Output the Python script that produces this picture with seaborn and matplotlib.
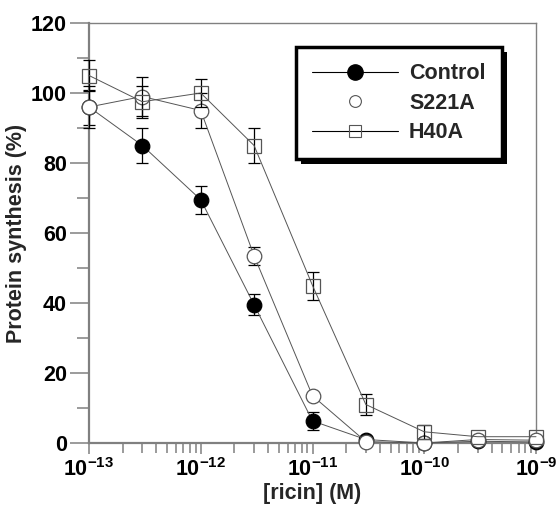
import numpy as np
import pandas as pd
import seaborn as sns
import matplotlib
matplotlib.use("Agg")
import matplotlib.pyplot as plt
from matplotlib.lines import Line2D
from matplotlib.patches import Rectangle
from matplotlib.transforms import IdentityTransform
from matplotlib.ticker import LogLocator, MultipleLocator, FixedLocator, LogFormatterSciNotation, NullFormatter

# ---- data ----
ricin = [1e-13, 3e-13, 1e-12, 3e-12, 1e-11, 3e-11, 1e-10, 3e-10, 1e-9]
control = [96, 85, 69.5, 39.5, 6.3, 1.0, 0.0, 0.5, 0.3]
control_err = [5, 5, 4, 3, 2.5, 0, 0, 0, 0]
s221a = [96, 99, 95, 53.5, 13.5, 0.4, 0.0, 1.0, 0.8]
s221a_err = [6, 5.5, 5, 2.6, 0, 0, 0, 0, 0]
h40a = [105, 97.5, 100, 85, 45, 11, 3.2, 1.8, 1.8]
h40a_err = [4.5, 4.5, 4, 5, 4, 3, 2, 0, 0]
series_names = ["Control", "S221A", "H40A"]
y_ticks = [0, 20, 40, 60, 80, 100, 120]
x_ticks = [1e-13, 1e-12, 1e-11, 1e-10, 1e-9]

sns.set_theme(style="white")
plt.rcParams["font.family"] = ["Liberation Sans", "DejaVu Sans"]
plt.rcParams["font.weight"] = "bold"
plt.rcParams["mathtext.fontset"] = "custom"
plt.rcParams["mathtext.rm"] = "Liberation Sans:bold"
plt.rcParams["mathtext.bf"] = "Liberation Sans:bold"
plt.rcParams["mathtext.default"] = "regular"
plt.rcParams["axes.unicode_minus"] = False

FS = 15.5

fig = plt.figure(figsize=(5.57, 5.16), dpi=100)
ax = fig.add_axes([89 / 557, 73 / 516, 447 / 557, 420 / 516])

df = pd.DataFrame({
    "ricin": ricin * 3,
    "value": control + s221a + h40a,
    "err": control_err + s221a_err + h40a_err,
    "series": [n for n in series_names for _ in ricin],
})

styles = {
    "Control": dict(marker="o", mfc="black", mec="black", ms=10.5, z=3),
    "S221A": dict(marker="o", mfc="white", mec="#555555", ms=10.5, z=4),
    "H40A": dict(marker="s", mfc="none", mec="#555555", ms=10.5, z=5),
}

for name in series_names:
    sub = df[df["series"] == name]
    st = styles[name]
    mask = sub["err"] > 0
    ax.errorbar(sub["ricin"][mask], sub["value"][mask], yerr=sub["err"][mask],
                fmt="none", ecolor="black", elinewidth=0.9, capsize=4,
                capthick=0.9, zorder=st["z"] - 0.5, clip_on=False)
    sns.lineplot(data=sub, x="ricin", y="value", ax=ax, color="#555555",
                 linewidth=0.7, marker=st["marker"], markersize=st["ms"],
                 markerfacecolor=st["mfc"], markeredgecolor=st["mec"],
                 markeredgewidth=0.9, zorder=st["z"], legend=False,
                 clip_on=False, estimator=None)

ax.set_xscale("log")
ax.set_xlim(1e-13, 1e-9)
ax.set_ylim(0, 120)
ax.set_yticks(y_ticks)
ax.yaxis.set_minor_locator(MultipleLocator(10))
ax.xaxis.set_major_locator(FixedLocator(x_ticks))
ax.xaxis.set_minor_locator(LogLocator(base=10, subs=np.arange(2, 10), numticks=20))
ax.xaxis.set_major_formatter(LogFormatterSciNotation())
ax.xaxis.set_minor_formatter(NullFormatter())

spine_col = "#808080"
for s in ["left", "bottom"]:
    ax.spines[s].set_color(spine_col)
    ax.spines[s].set_linewidth(1.6)
for s in ["top", "right"]:
    ax.spines[s].set_color(spine_col)
    ax.spines[s].set_linewidth(1.0)

ax.tick_params(axis="y", which="major", direction="out", length=14, width=1.1,
               color=spine_col, labelsize=FS, pad=2, labelcolor="black", left=True)
ax.tick_params(axis="y", which="minor", direction="out", length=9, width=1.1,
               color=spine_col, left=True)
ax.tick_params(axis="x", which="major", direction="out", length=8, width=1.1,
               color=spine_col, labelsize=FS, pad=3, labelcolor="black", bottom=True)
ax.tick_params(axis="x", which="minor", direction="out", length=7, width=1.1,
               color=spine_col, bottom=True)

ax.set_xlabel("[ricin] (M)", fontsize=FS, labelpad=1, fontweight="bold")
ax.set_ylabel("Protein synthesis (%)", fontsize=FS, labelpad=3, fontweight="bold")
ax.grid(False)

handles = [
    Line2D([], [], color="black", lw=0.8, marker="o", ms=11, mfc="black", mec="black"),
    Line2D([], [], color="none", lw=0, marker="o", ms=8.5, mfc="white", mec="#555555", mew=0.8),
    Line2D([], [], color="black", lw=0.8, marker="s", ms=9, mfc="none", mec="#555555", mew=0.8),
]
leg = ax.legend(handles, series_names, loc="upper left",
                bbox_to_anchor=(0.463, 0.943), borderaxespad=0,
                frameon=True, fancybox=False, framealpha=1, edgecolor="black",
                prop={"size": FS, "weight": "bold"}, handlelength=4.0, handletextpad=0.5,
                labelspacing=0.4, borderpad=0.75)
leg.get_frame().set_linewidth(2.5)
leg.set_zorder(10)

fig.canvas.draw()
bb = leg.get_window_extent()
shadow = Rectangle((bb.x0 + 5, bb.y0 - 5), bb.width, bb.height,
                   transform=IdentityTransform(), facecolor="black",
                   edgecolor="none", zorder=9.9, clip_on=False)
ax.add_artist(shadow)

fig.savefig("out.png", dpi=100)
